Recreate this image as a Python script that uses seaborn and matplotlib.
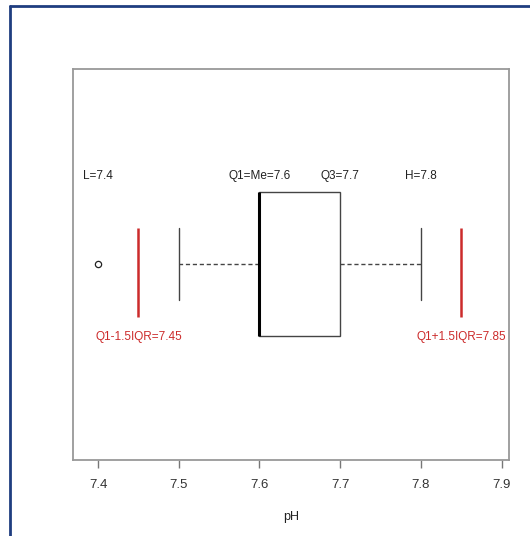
import numpy as np
import matplotlib.pyplot as plt
import seaborn as sns
from matplotlib.lines import Line2D

# pH sample: Q1 = median = 7.6, Q3 = 7.7, whiskers 7.5 / 7.8, outlier 7.4
ph = [7.4, 7.5, 7.6, 7.6, 7.6, 7.6, 7.7, 7.7, 7.8]
tick_vals = [7.4, 7.5, 7.6, 7.7, 7.8, 7.9]
x_label = 'pH'

RED = '#cc2b2b'
TXT = '#222222'

# quartiles and fences
q1, med, q3 = np.percentile(ph, [25, 50, 75])
iqr = q3 - q1
low_fence = round(q1 - 1.5 * iqr, 2)
high_fence = round(q3 + 1.5 * iqr, 2)
inside = [v for v in ph if low_fence <= v <= high_fence]
low_whisk, high_whisk = min(inside), max(inside)

sns.set_style('white')
plt.rcParams['font.family'] = ['Liberation Sans', 'DejaVu Sans']

fig = plt.figure(figsize=(5.3, 5.36), dpi=100)
ax = fig.add_axes([0.1377, 0.1418, 0.8226, 0.7295])

sns.boxplot(x=ph, orient='h', width=0.8, whis=1.5, ax=ax,
            color='white', linecolor='#444444', linewidth=1,
            medianprops=dict(color='black', linewidth=2.2),
            whiskerprops=dict(linestyle=(0, (3, 2))),
            flierprops=dict(marker='o', markersize=4.5, markerfacecolor='none',
                            markeredgecolor='#222222', markeredgewidth=0.9))

ax.set_ylim(1.086, -1.086)
ax.set_xlim(7.369, 7.909)
ax.set_yticks([])
ax.set_ylabel('')
ax.set_xticks(tick_vals)
ax.set_xticklabels([f'{v:g}' for v in tick_vals], fontsize=9.5, color='#333333')
ax.tick_params(axis='x', bottom=True, length=6, width=1, color='#777777', pad=8)
ax.set_xlabel(x_label, fontsize=9, color=TXT, labelpad=14)
for s in ax.spines.values():
    s.set_color('#999999')
    s.set_linewidth(1.3)

# fences
ax.vlines([low_fence, high_fence], -0.205, 0.294, color=RED, linewidth=1.8)

# annotations
top_y = -0.494
ax.text(min(ph), top_y, f'L={min(ph):g}', ha='center', va='center', fontsize=8.5, color=TXT)
ax.text(q1, top_y, f'Q1=Me={q1:g}', ha='center', va='center', fontsize=8.5, color=TXT)
ax.text(q3, top_y, f'Q3={q3:g}', ha='center', va='center', fontsize=8.5, color=TXT)
ax.text(high_whisk, top_y, f'H={high_whisk:g}', ha='center', va='center', fontsize=8.5, color=TXT)
ax.text(low_fence, 0.405, f'Q1-1.5IQR={low_fence:g}', ha='center', va='center', fontsize=8.5, color=RED)
ax.text(high_fence, 0.405, f'Q1+1.5IQR={high_fence:g}', ha='center', va='center', fontsize=8.5, color=RED)

# outer frame (top and left edges of the slide border)
fy = 1 - 5.5 / 536
fx = 10 / 530
fig.add_artist(Line2D([fx, 1], [fy, fy], transform=fig.transFigure, color='#1f3d80', linewidth=2))
fig.add_artist(Line2D([fx, fx], [0, fy], transform=fig.transFigure, color='#1f3d80', linewidth=2))

fig.savefig('out.png', dpi=100, facecolor='white')
